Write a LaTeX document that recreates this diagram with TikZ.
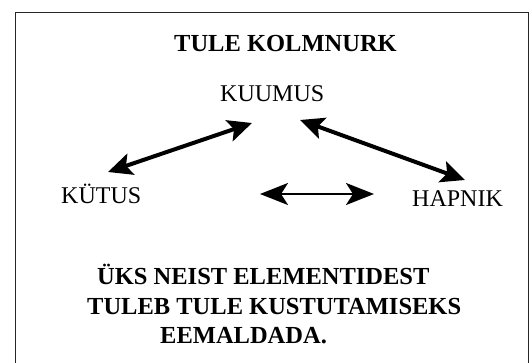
\documentclass[tikz,border=0pt]{standalone}
\usepackage{fontspec}
\setmainfont{Liberation Serif}
\usetikzlibrary{arrows.meta}
\tikzset{
  lbl/.style={inner sep=0pt, anchor=base west, font=\fontsize{24}{28}\selectfont},
  blbl/.style={lbl, font=\fontsize{24.5}{28}\selectfont\bfseries},
  bighead/.style={Stealth[length=24pt,width=22pt,inset=5pt]},
  midhead/.style={Stealth[length=28pt,width=22pt,inset=7pt]},
  bigarrow/.style={line width=4pt, {Stealth[length=24pt,width=22pt,inset=5pt]}-{Stealth[length=24pt,width=22pt,inset=5pt]}},
  midarrow/.style={line width=2.6pt, {Stealth[length=28pt,width=22pt,inset=7pt]}-{Stealth[length=28pt,width=22pt,inset=7pt]}}
}
\begin{document}
\begin{tikzpicture}[x=1pt,y=-1pt]
\useasboundingbox (0,0) rectangle (532,363);
\fill[white] (0,0) rectangle (532,363);
\draw[line width=1.4pt, black!85] (15.5,368) -- (15.5,12.5) -- (528.5,12.5) -- (528.5,368);
\node[blbl] (title) at (174,52) {TULE KOLMNURK};
\node[lbl] (kuumus) at (220,102) {KUUMUS};
\node[lbl] (kytus) at (61,204) {KÜTUS};
\node[lbl] (hapnik) at (412,207) {HAPNIK};
\node[blbl] (l1) at (97,284) {ÜKS NEIST ELEMENTIDEST};
\node[blbl] (l2) at (87,314) {TULEB TULE KUSTUTAMISEKS};
\node[blbl] (l3) at (160,343) {EEMALDADA.};
\coordinate (ak) at (108,172);
\coordinate (akt) at (252,123);
\coordinate (aht) at (300,120);
\coordinate (ah) at (465,180);
\coordinate (mk) at (260,194);
\coordinate (mh) at (374,194);
\draw[bigarrow] (ak) -- (akt);
\draw[bigarrow] (aht) -- (ah);
\draw[midarrow] (mk) -- (mh);
\end{tikzpicture}
\end{document}
